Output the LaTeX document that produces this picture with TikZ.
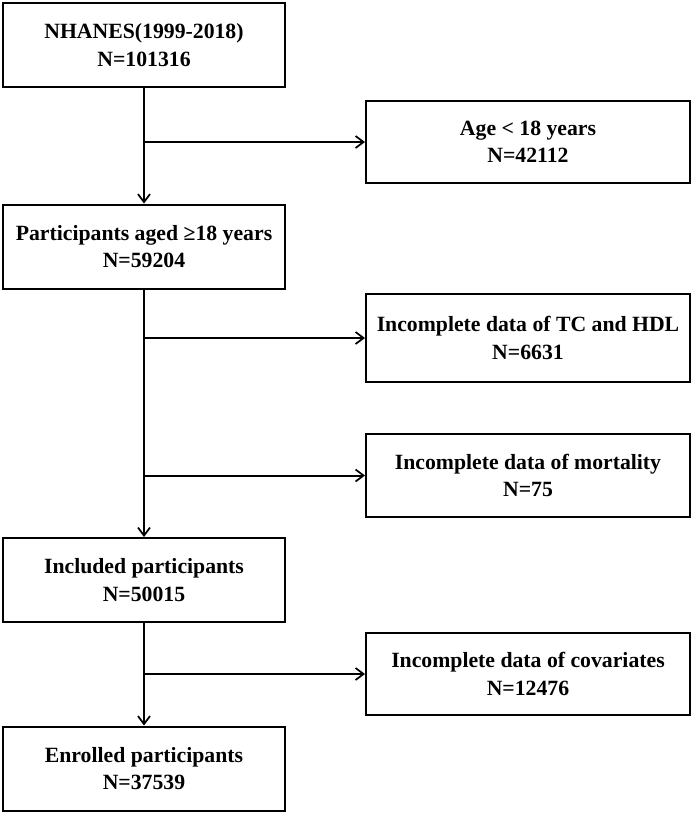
\documentclass[tikz,border=0pt]{standalone}
\usepackage{fontspec}
\setmainfont{Liberation Serif}
\usetikzlibrary{arrows.meta}
\begin{document}
\begin{tikzpicture}[x=0.75pt,y=-0.75pt,
  box/.style={draw, line width=1.5pt, align=center, font=\fontsize{16.3}{20.5}\selectfont\bfseries, inner sep=0pt},
  lbox/.style={box, minimum width=211.5pt, minimum height=63pt},
  rbox/.style={box, minimum width=243pt, minimum height=62pt},
  conn/.style={line width=1.5pt},
  arr/.style={conn, -{Straight Barb[length=6pt,width=9pt,line width=1.3pt]}}]
\useasboundingbox (0,0) rectangle (696,819);
\node[lbox] (b1) at (144,45) {NHANES(1999-2018)\\N=101316};
\node[lbox] (b2) at (144,246.5) {Participants aged ≥18 years\\N=59204};
\node[lbox] (b3) at (144,580) {Included participants\\N=50015};
\node[lbox] (b4) at (144,768.5) {Enrolled participants\\N=37539};
\node[rbox] (r1) at (528,142) {Age < 18 years\\N=42112};
\node[rbox, minimum height=66pt] (r2) at (528,338) {Incomplete data of TC and HDL\\N=6631};
\node[rbox] (r3) at (528,475.5) {Incomplete data of mortality\\N=75};
\node[rbox] (r4) at (528,674) {Incomplete data of covariates\\N=12476};
\draw[arr] (b1) -- (b2);
\draw[arr] (b2) -- (b3);
\draw[arr] (b3) -- (b4);
\draw[arr] (b1.south |- r1.west) -- (r1.west);
\draw[arr] (b2.south |- r2.west) -- (r2.west);
\draw[arr] (b2.south |- r3.west) -- (r3.west);
\draw[arr] (b3.south |- r4.west) -- (r4.west);
\end{tikzpicture}
\end{document}
